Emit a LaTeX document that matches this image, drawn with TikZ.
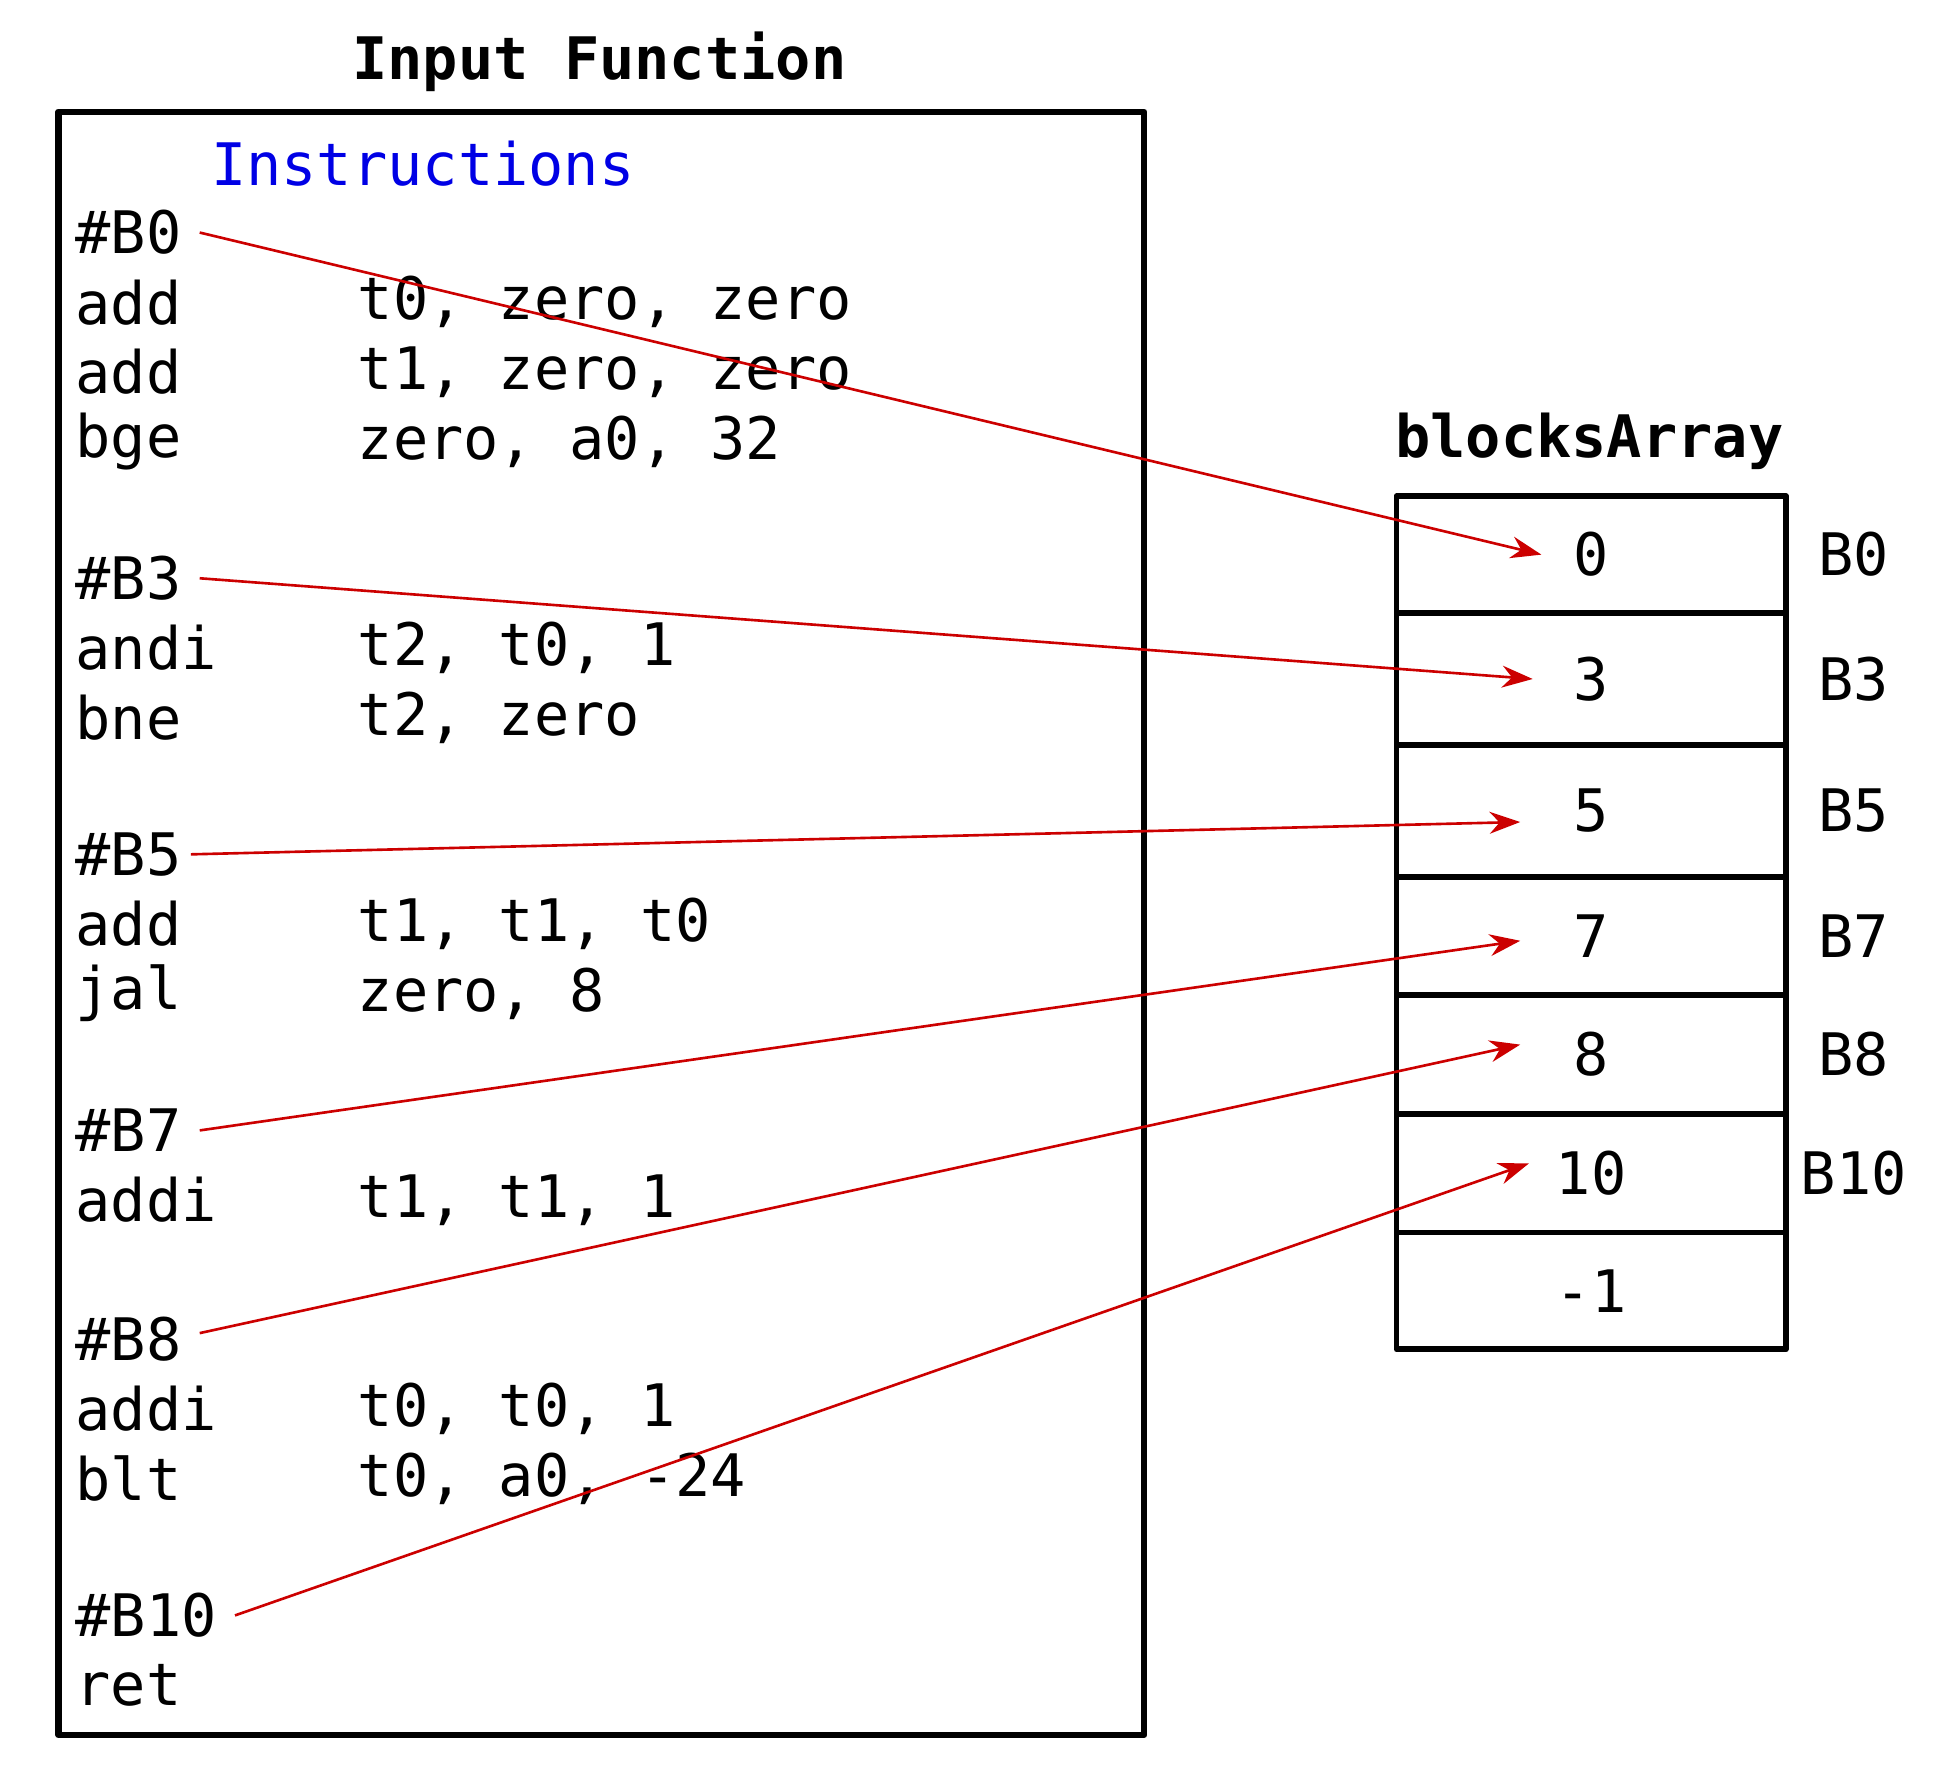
\documentclass[tikz,border=0pt]{standalone}
\usepackage{fontspec}
\setmainfont{DejaVu Sans Mono}
\usetikzlibrary{arrows.meta}
\begin{document}
\begin{tikzpicture}[x=0.01cm,y=-0.01cm, line join=round,
    code/.style={anchor=west, inner sep=0pt, font=\fontsize{13.4pt}{16pt}\selectfont},
    cell/.style={draw, line width=1.3pt, minimum width=3.13cm, font=\fontsize{13.4pt}{16pt}\selectfont},
    ptr/.style={draw=red!80!black, line width=0.6pt, -{Stealth[length=7pt,width=5pt]}}]
    \useasboundingbox (0,0) rectangle (1560,1431);
                        % input function box
                        \node[font=\bfseries\fontsize{13.4pt}{16pt}\selectfont] (title) at (482,50) {Input Function};
                        \draw [line width=1.5pt] (47,90) rectangle (920,1395);
                        \node[code, anchor=center, text=blue!90!black] (instr) at (340,132) {Instructions};

                        \node[code] (b0) at (60,187) {\#B0};
                        \node[code] at (60,243) {add};  \node[code] at (287,243) {t0, zero, zero};
                        \node[code] at (60,299) {add};  \node[code] at (287,299) {t1, zero, zero};
                        \node[code] at (60,355) {bge};  \node[code] at (287,355) {zero, a0, 32};
                        \node[code] (b3) at (60,465) {\#B3};
                        \node[code] at (60,521) {andi}; \node[code] at (287,521) {t2, t0, 1};
                        \node[code] at (60,577) {bne};  \node[code] at (287,577) {t2, zero};
                        \node[code] (b5) at (60,687) {\#B5};
                        \node[code] at (60,743) {add};  \node[code] at (287,743) {t1, t1, t0};
                        \node[code] at (60,799) {jal};  \node[code] at (287,799) {zero, 8};
                        \node[code] (b7) at (60,909) {\#B7};
                        \node[code] at (60,965) {addi}; \node[code] at (287,965) {t1, t1, 1};
                        \node[code] (b8) at (60,1077) {\#B8};
                        \node[code] at (60,1133) {addi}; \node[code] at (287,1133) {t0, t0, 1};
                        \node[code] at (60,1189) {blt};  \node[code] at (287,1189) {t0, a0, -24};
                        \node[code] (b10) at (60,1299) {\#B10};
                        \node[code] at (60,1355) {ret};

                        % blocks array
                        \node[font=\bfseries\fontsize{13.4pt}{16pt}\selectfont] (arr) at (1278,355) {blocksArray};
                        \node[cell, minimum height=0.94cm] (c0) at (1279.5,446) {0};
                        \node[cell, minimum height=1.06cm] (c3) at (1279.5,546) {3};
                        \node[cell, minimum height=1.06cm] (c5) at (1279.5,652) {5};
                        \node[cell, minimum height=0.95cm] (c7) at (1279.5,752.5) {7};
                        \node[cell, minimum height=0.96cm] (c8) at (1279.5,848) {8};
                        \node[cell, minimum height=0.95cm] (c10) at (1279.5,943.5) {10};
                        \node[cell, minimum height=0.94cm] (cend) at (1279.5,1038) {-1};
                        \foreach \n/\l in {c0/B0, c3/B3, c5/B5, c7/B7, c8/B8, c10/B10}
                            \node[code, anchor=center] at ([xshift=2.11cm]\n.center) {\l};

                        % pointers
                        \draw[ptr] ([xshift=4pt]b0.east) -- ([xshift=-0.4cm]c0.center);
                        \draw[ptr] ([xshift=4pt]b3.east) -- ([xshift=-0.47cm]c3.center);
                        \draw[ptr] ([xshift=2pt]b5.east) -- ([xshift=-0.57cm,yshift=-0.09cm]c5.center);
                        \draw[ptr] ([xshift=4pt]b7.east) -- ([xshift=-0.57cm,yshift=-0.04cm]c7.center);
                        \draw[ptr] ([xshift=4pt,yshift=0.05cm]b8.east) -- ([xshift=-0.57cm,yshift=0.08cm]c8.center);
                        \draw[ptr] ([xshift=4pt]b10.east) -- ([xshift=-0.5cm,yshift=0.08cm]c10.center);
\end{tikzpicture}
\end{document}
